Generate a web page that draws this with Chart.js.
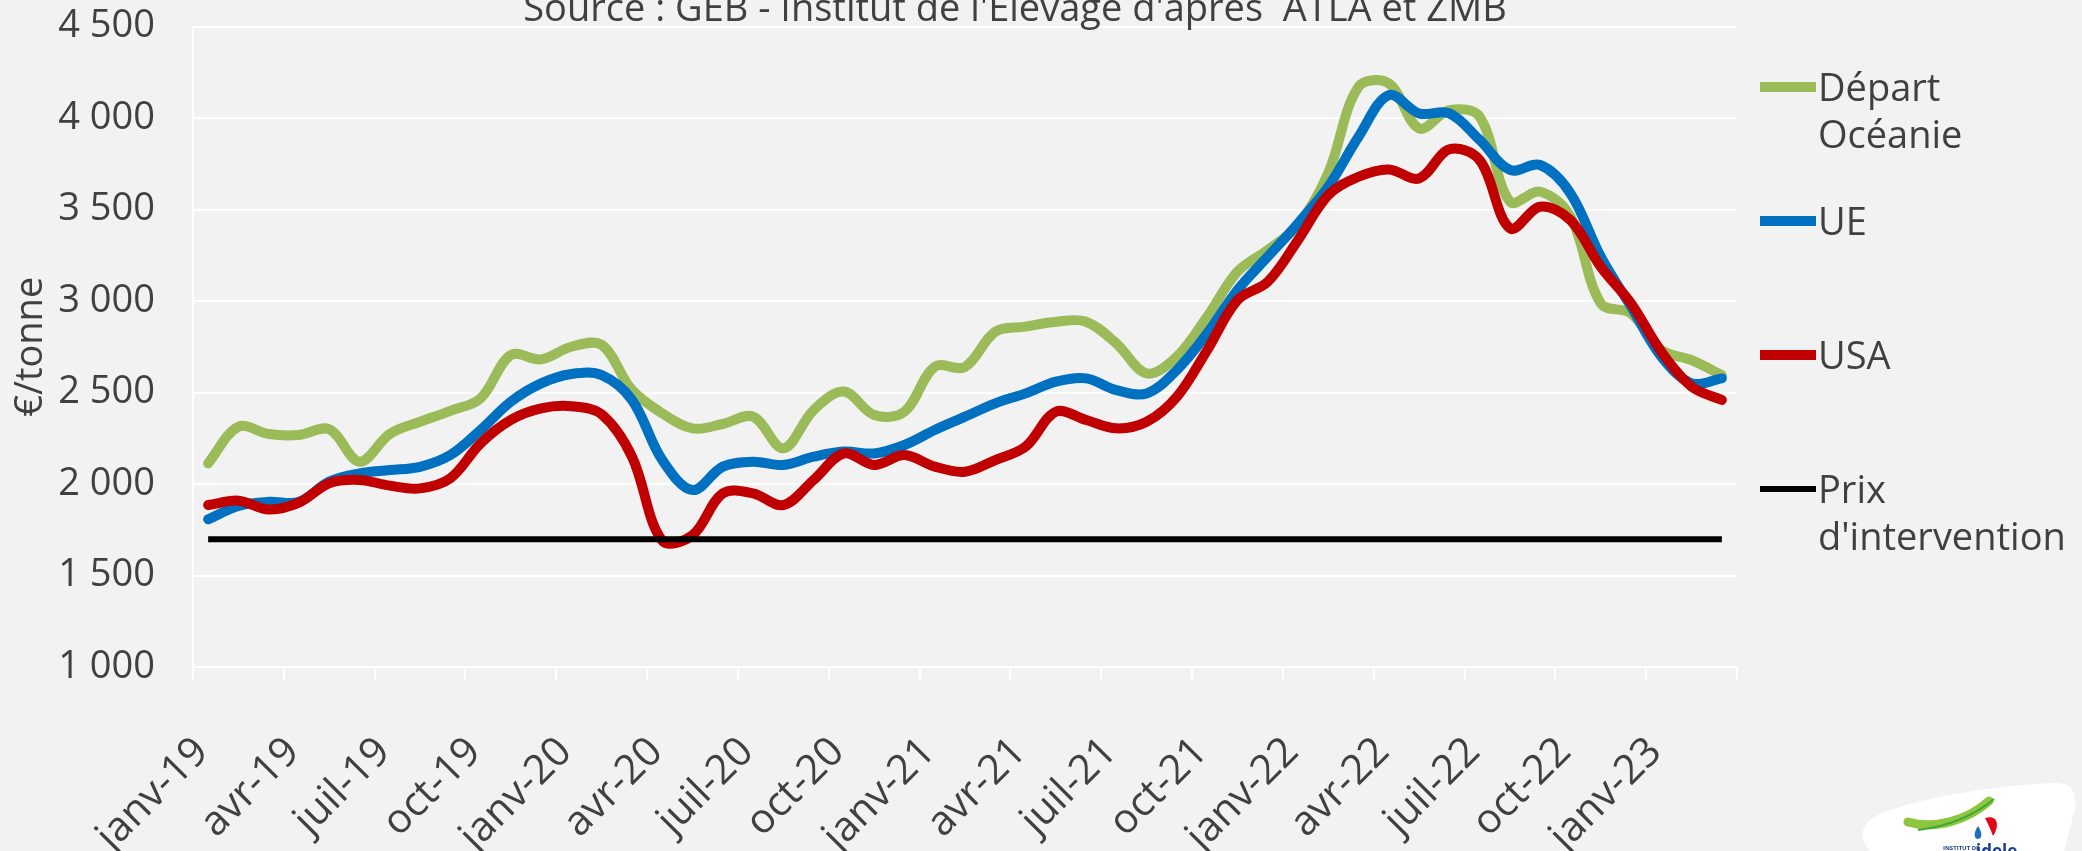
<!DOCTYPE html>
<html lang="fr">
<head>
<meta charset="utf-8">
<title>Prix export en €/tonne</title>
<script src="https://cdn.jsdelivr.net/npm/chart.js@4.4.1/dist/chart.umd.min.js"></script>
<style>
  html, body { margin: 0; padding: 0; background: #f2f2f2; }
  #wrap { position: relative; width: 2082px; height: 851px; overflow: hidden; background: #f2f2f2; }
  #chart { display: block; }
  #logo { position: absolute; left: 0; top: 0; pointer-events: none; }
</style>
</head>
<body>
<div id="wrap">
  <canvas id="chart" width="2082" height="851"></canvas>
  <svg id="logo" width="2082" height="851" viewBox="0 0 2082 851">
    <path d="M1870 851 C1858 838 1860 824 1878 815 C1925 795 2010 784 2055 783 C2078 783 2078 800 2072 820 L2064 851 Z" fill="#ffffff"/>
    <path d="M1908 822 C1935 830 1968 820 1989 801" stroke="#8cc63f" stroke-width="9" fill="none" stroke-linecap="round"/>
    <path d="M1918 830 C1950 826 1975 815 1994 799" stroke="#3aa935" stroke-width="2" fill="none"/>
    <path d="M1985 818 C1998 814 2000 826 1993 836 C1991 830 1988 824 1985 818 Z" fill="#e30613"/>
    <path d="M1978 826 C1974 832 1973 838 1978 839 C1983 838 1982 832 1978 826 Z" fill="#1d6fb8"/>
    <text x="1943" y="850" font-size="6" font-weight="bold" fill="#1b3f8b" font-family="Open Sans">INSTITUT DE</text>
    <text x="1976" y="857" font-size="17" font-weight="bold" fill="#1b3f8b" font-family="Open Sans">idele</text>
  </svg>
</div>
<script>
// Monthly prices, janv-19 to mars-23
const months = [
  'janv-19', 'févr-19', 'mars-19', 'avr-19', 'mai-19', 'juin-19', 'juil-19', 'août-19', 'sept-19', 'oct-19', 'nov-19', 'déc-19',
  'janv-20', 'févr-20', 'mars-20', 'avr-20', 'mai-20', 'juin-20', 'juil-20', 'août-20', 'sept-20', 'oct-20', 'nov-20', 'déc-20',
  'janv-21', 'févr-21', 'mars-21', 'avr-21', 'mai-21', 'juin-21', 'juil-21', 'août-21', 'sept-21', 'oct-21', 'nov-21', 'déc-21',
  'janv-22', 'févr-22', 'mars-22', 'avr-22', 'mai-22', 'juin-22', 'juil-22', 'août-22', 'sept-22', 'oct-22', 'nov-22', 'déc-22',
  'janv-23', 'févr-23', 'mars-23'
];

const oceaniePrices = [
  2113, 2313, 2273, 2268, 2299, 2122, 2273, 2340, 2400, 2468, 2705, 2681,
  2750, 2760, 2514, 2386, 2304, 2328, 2368, 2195, 2404, 2505, 2377, 2395,
  2641, 2640, 2832, 2860, 2887, 2887, 2768, 2604, 2696, 2914, 3160, 3279,
  3415, 3700, 4171, 4189, 3943, 4043, 4007, 3543, 3597, 3461, 2987, 2932,
  2732, 2677, 2595
];

const uePrices = [
  1807, 1880, 1903, 1903, 2013, 2058, 2076, 2094, 2158, 2295, 2450, 2550,
  2601, 2595, 2459, 2131, 1967, 2095, 2122, 2104, 2149, 2177, 2167, 2213,
  2295, 2368, 2441, 2495, 2559, 2577, 2513, 2495, 2623, 2823, 3060, 3242,
  3424, 3625, 3898, 4125, 4025, 4025, 3880, 3716, 3743, 3588, 3242, 2969,
  2696, 2550, 2577
];

const usaPrices = [
  1885, 1909, 1861, 1898, 2004, 2022, 1991, 1976, 2031, 2222, 2350, 2413,
  2425, 2380, 2149, 1690, 1720, 1949, 1949, 1885, 2022, 2167, 2104, 2158,
  2095, 2067, 2131, 2204, 2395, 2350, 2304, 2340, 2477, 2732, 3005, 3105,
  3333, 3579, 3679, 3719, 3670, 3829, 3770, 3397, 3515, 3442, 3187, 2987,
  2723, 2532, 2459
];

const interventionPrices = [
  1698, 1698, 1698, 1698, 1698, 1698, 1698, 1698, 1698, 1698, 1698, 1698,
  1698, 1698, 1698, 1698, 1698, 1698, 1698, 1698, 1698, 1698, 1698, 1698,
  1698, 1698, 1698, 1698, 1698, 1698, 1698, 1698, 1698, 1698, 1698, 1698,
  1698, 1698, 1698, 1698, 1698, 1698, 1698, 1698, 1698, 1698, 1698, 1698,
  1698, 1698, 1698
];

const seriesNames = ['Départ Océanie', 'UE', 'USA', "Prix d'intervention"];
const legendLines = [['Départ', 'Océanie'], ['UE'], ['USA'], ['Prix', "d'intervention"]];
const sourceText = "Source : GEB - Institut de l'Elevage d'après  ATLA et ZMB";

const fontFamily = "'Open Sans', 'Noto Sans', sans-serif";
const textColor = '#404040';
const gridColor = '#ffffff';

Chart.defaults.font.family = fontFamily;
Chart.defaults.color = textColor;

// "4500" -> "4 500"
function formatThousands(v) {
  return String(v).replace(/\B(?=(\d{3})+(?!\d))/g, ' ');
}

// Source line, centred over the plot, partly cut by the top edge
const sourceTitle = {
  id: 'sourceTitle',
  afterDraw(chart) {
    const { ctx } = chart;
    ctx.save();
    ctx.font = `38px ${fontFamily}`;
    ctx.fillStyle = textColor;
    ctx.textAlign = 'center';
    ctx.textBaseline = 'alphabetic';
    ctx.fillText(sourceText, 1015, 21);
    ctx.restore();
  }
};

// Legend on the right: one slot per series, text may wrap on two lines
const sideLegend = {
  id: 'sideLegend',
  afterDraw(chart) {
    const { ctx, chartArea } = chart;
    const x0 = chartArea.right + 23;
    chart.data.datasets.forEach((ds, i) => {
      const y = 87 + i * 134;
      ctx.save();
      ctx.strokeStyle = ds.borderColor;
      ctx.lineWidth = ds.borderWidth;
      ctx.lineCap = 'butt';
      ctx.beginPath();
      ctx.moveTo(x0, y);
      ctx.lineTo(x0 + 56, y);
      ctx.stroke();
      ctx.font = `38px ${fontFamily}`;
      ctx.fillStyle = textColor;
      ctx.textAlign = 'left';
      ctx.textBaseline = 'alphabetic';
      legendLines[i].forEach((line, j) => {
        ctx.fillText(line, x0 + 58, y + 13.5 + j * 47);
      });
      ctx.restore();
    });
  }
};

const smoothLine = (label, data, color, order) => ({
  label,
  data,
  borderColor: color,
  backgroundColor: color,
  borderWidth: 10,
  borderCapStyle: 'round',
  borderJoinStyle: 'round',
  tension: 0.35,
  pointRadius: 0,
  fill: false,
  order
});

new Chart(document.getElementById('chart').getContext('2d'), {
  type: 'line',
  data: {
    labels: months,
    datasets: [
      smoothLine(seriesNames[0], oceaniePrices, '#9bbb59', 4),
      smoothLine(seriesNames[1], uePrices, '#0070c0', 3),
      smoothLine(seriesNames[2], usaPrices, '#c00000', 2),
      {
        label: seriesNames[3],
        data: interventionPrices,
        borderColor: '#000000',
        backgroundColor: '#000000',
        borderWidth: 6,
        pointRadius: 0,
        tension: 0,
        fill: false,
        order: 1
      }
    ]
  },
  options: {
    responsive: false,
    animation: false,
    layout: { padding: { top: 26.5, right: 345, bottom: 0, left: 0 } },
    plugins: {
      legend: { display: false },
      title: { display: false },
      tooltip: { enabled: false }
    },
    scales: {
      x: {
        offset: true,
        grid: {
          offset: true,
          drawOnChartArea: false,
          drawTicks: true,
          tickLength: 13,
          lineWidth: 2,
          // tick marks only every third month boundary
          color: c => (c.index === undefined || c.index % 3 === 0) ? gridColor : 'rgba(0,0,0,0)'
        },
        border: { display: true, color: gridColor, width: 2 },
        ticks: {
          autoSkip: false,
          minRotation: 45,
          maxRotation: 45,
          padding: 48,
          labelOffset: -6,
          color: textColor,
          font: { size: 41 },
          callback(value, index) {
            return index % 3 === 0 ? this.getLabelForValue(value) : '';
          }
        },
        afterFit(scale) { scale.height = 184; }
      },
      y: {
        min: 1000,
        max: 4500,
        ticks: {
          stepSize: 500,
          padding: 38,
          color: textColor,
          font: { size: 38 },
          callback: v => formatThousands(v)
        },
        grid: { color: gridColor, lineWidth: 2, drawTicks: false },
        border: { display: true, color: gridColor, width: 2 },
        title: {
          display: true,
          text: '€/tonne',
          color: textColor,
          font: { size: 38 },
          padding: { top: 8, bottom: 0 }
        },
        afterFit(scale) {
          scale.width = 193;
          // the label gap should not push the plot down
          scale.paddingTop = 0;
          scale.paddingBottom = 0;
        }
      }
    }
  },
  plugins: [sourceTitle, sideLegend]
});
</script>
</body>
</html>
